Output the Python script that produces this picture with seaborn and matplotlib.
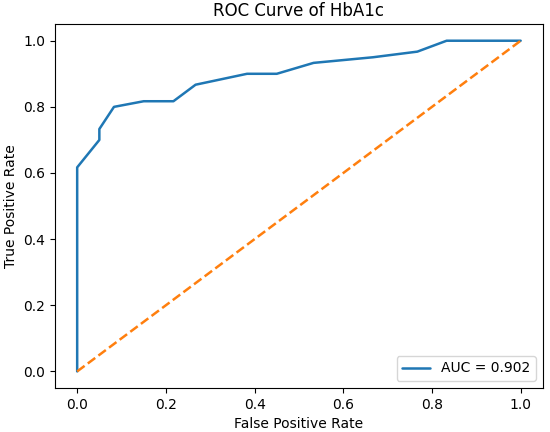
import numpy as np
import pandas as pd
import matplotlib
matplotlib.use("Agg")
import matplotlib.pyplot as plt
import seaborn as sns

# ROC points
fpr = [0.0, 0.0, 0.05, 0.05, 0.083, 0.15, 0.217, 0.267, 0.383, 0.45, 0.533, 0.667, 0.767, 0.833, 1.0]
tpr = [0.0, 0.617, 0.7, 0.733, 0.8, 0.817, 0.817, 0.867, 0.9, 0.9, 0.933, 0.95, 0.967, 1.0, 1.0]
chance = [0.0, 1.0]
auc_label = "AUC = 0.902"

df = pd.DataFrame({"fpr": fpr, "tpr": tpr})

sns.set_style("ticks", {"axes.edgecolor": "black", "text.color": "black",
                        "axes.labelcolor": "black", "xtick.color": "black",
                        "ytick.color": "black"})
plt.rcParams["font.family"] = ["DejaVu Sans"]

fig, ax = plt.subplots(figsize=(5.5, 4.32), dpi=100)
sns.lineplot(data=df, x="fpr", y="tpr", sort=False, estimator=None,
             color="#1f77b4", lw=1.8, label=auc_label, ax=ax)
ax.plot(chance, chance, color="#ff7f0e", linestyle="--", lw=1.8)

ax.set_title("ROC Curve of HbA1c", fontsize=12)
ax.set_xlabel("False Positive Rate")
ax.set_ylabel("True Positive Rate")
ax.legend(loc="lower right")
fig.subplots_adjust(left=0.1, right=0.987, bottom=0.102, top=0.944)

fig.savefig("out.png", dpi=100)
